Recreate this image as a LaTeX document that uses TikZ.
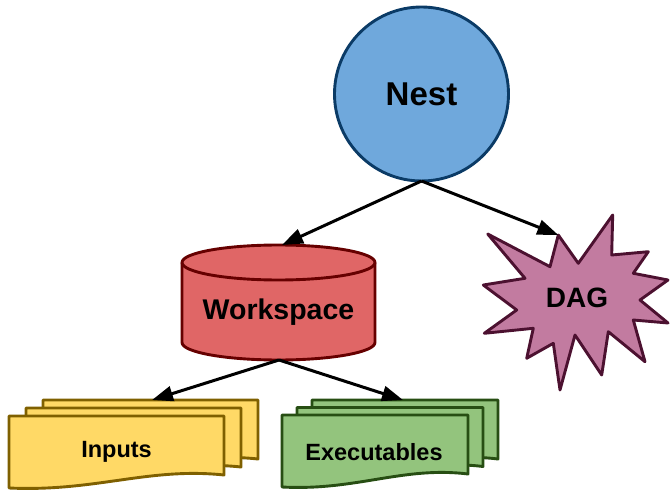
\documentclass[tikz,border=0pt]{standalone}
\usepackage{fontspec}
\setmainfont{Liberation Sans}
\usetikzlibrary{arrows.meta}

\definecolor{nestfill}{HTML}{6FA8DC}
\definecolor{nestline}{HTML}{0B3B66}
\definecolor{wsfill}{HTML}{E06666}
\definecolor{wsline}{HTML}{660000}
\definecolor{dagfill}{HTML}{C27BA0}
\definecolor{dagline}{HTML}{4C1130}
\definecolor{infill}{HTML}{FFD966}
\definecolor{inline}{HTML}{7F6000}
\definecolor{exfill}{HTML}{93C47D}
\definecolor{exline}{HTML}{274E13}

% one sheet of a stacked document: left, top, width, style
\newcommand\docsheet[4]{%
  \draw[#4] (#1,#2) -- ++(#3,0) -- ++(0,59)
    .. controls +({-0.35*#3},-8) and +({0.4*#3},4) .. ++({-#3},13) -- cycle;}

\tikzset{
  shapeline/.style={line width=2.9pt, line join=round},
  arrowline/.style={line width=3pt, -{Triangle[length=21pt,width=15pt]}},
  label/.style={font=\bfseries, text=black, inner sep=0pt},
  insheet/.style={shapeline, draw=inline, fill=infill},
  exsheet/.style={shapeline, draw=exline, fill=exfill},
}

\begin{document}
\begin{tikzpicture}[x=1pt, y=-1pt]
\useasboundingbox (0,0) rectangle (670,492);

% Nest
\node[circle, shapeline, draw=nestline, fill=nestfill, minimum size=174pt,
      inner sep=0pt, outer sep=0pt, label, font=\bfseries\fontsize{33}{36}\selectfont]
  (nest) at (421.5,94) {Nest};

% Workspace cylinder
\fill[wsfill] (182,262.5) -- (182,342.5)
  arc[start angle=180, end angle=0, x radius=96.5, y radius=17.5]
  -- (375,262.5)
  arc[start angle=0, end angle=-180, x radius=96.5, y radius=17.5] -- cycle;
\draw[shapeline, draw=wsline] (182,262.5) -- (182,342.5)
  arc[start angle=180, end angle=0, x radius=96.5, y radius=17.5]
  -- (375,262.5);
\draw[shapeline, draw=wsline] (278.5,262.5) ellipse[x radius=96.5, y radius=17.5];
\node[label, font=\bfseries\fontsize{28.5}{32}\selectfont] (ws) at (278.5,312) {Workspace};
\coordinate (ws-top) at (282,245);
\coordinate (ws-bot) at (279,360);

% DAG starburst
\draw[shapeline, draw=dagline, fill=dagfill]
  (558.3,235) -- (578.3,263.3) -- (612.7,215) -- (611.7,255) -- (648.3,251.7)
  -- (633.3,273.3) -- (668,280) -- (640,300) -- (668,323) -- (633.3,320)
  -- (645,361.7) -- (608.3,331.7) -- (601.7,375) -- (575,335) -- (560,390)
  -- (553.3,343.3) -- (526.7,358.3) -- (533.3,328.3) -- (484.3,333.3)
  -- (516.7,310) -- (483.3,285) -- (525,278.3) -- (487.7,234) -- (550,266.7)
  -- cycle;
\node[label, font=\bfseries\fontsize{28}{32}\selectfont] (dag) at (577,298) {DAG};
\coordinate (dag-tip) at (558.3,235);

% Inputs stack
\docsheet{43}{400}{215}{insheet}
\docsheet{26}{408}{215}{insheet}
\docsheet{9}{416}{215}{insheet}
\node[label, font=\bfseries\fontsize{23.5}{27}\selectfont] (inputs) at (116.5,452) {Inputs};
\coordinate (inputs-top) at (152,400);

% Executables stack
\docsheet{312}{400}{186}{exsheet}
\docsheet{297}{407.5}{186}{exsheet}
\docsheet{282}{415}{186}{exsheet}
\node[label, font=\bfseries\fontsize{23.5}{27}\selectfont] (exec) at (374,452.5) {Executables};
\coordinate (exec-top) at (403,400);

% Connectors
\draw[arrowline] (nest.south) -- (ws-top);
\draw[arrowline] (nest.south) -- (dag-tip);
\draw[arrowline] (ws-bot) -- (inputs-top);
\draw[arrowline] (ws-bot) -- (exec-top);
\end{tikzpicture}
\end{document}
